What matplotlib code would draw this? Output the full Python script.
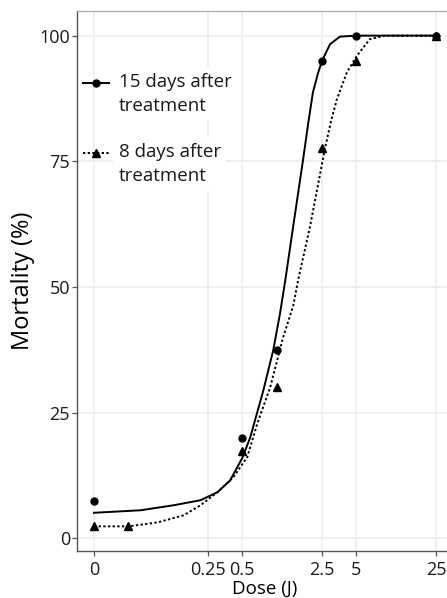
import numpy as np
import matplotlib.pyplot as plt
from matplotlib.lines import Line2D
from matplotlib.legend_handler import HandlerLine2D

plt.rcParams['font.family'] = ['Open Sans', 'DejaVu Sans']

# dose axis is log; dose 0 is drawn one decade below 0.25
ZERO_AT = 0.025
tick_doses = [0, 0.25, 0.5, 2.5, 5, 25]
tick_labels = ["0", "0.25", "0.5", "2.5", "5", "25"]
y_ticks = [0, 25, 50, 75, 100]

# observed mortality
dose_15 = [0, 0.5, 1, 2.5, 5, 25]
mort_15 = [7.4, 19.9, 37.4, 95, 100, 100]
dose_8 = [0, 0.05, 0.5, 1, 2.5, 5, 25]
mort_8 = [2.4, 2.4, 17.4, 30.1, 77.7, 95, 100]

# fitted curves
fit_dose_15 = [0, 0.064, 0.125, 0.215, 0.303, 0.39, 0.5, 0.587, 0.764, 0.933,
               1.07, 1.19, 1.40, 1.71, 1.89, 2.08, 2.31, 2.5, 2.94, 3.59, 5, 25]
fit_mort_15 = [5.1, 5.6, 6.6, 7.6, 9.2, 11.5, 16.0, 20.1, 29.4, 37.4,
               44.7, 51.3, 62.2, 75.5, 82.5, 88.7, 92.6, 95, 98.3, 99.8, 100, 100]
fit_dose_8 = [0, 0.05, 0.091, 0.153, 0.215, 0.303, 0.418, 0.553, 0.676, 0.879,
              1.14, 1.40, 1.54, 1.97, 2.65, 3.0, 3.38, 4.13, 5.06, 6.56, 8.87, 25]
fit_mort_8 = [2.4, 2.4, 3.2, 4.6, 6.6, 9.2, 12.2, 16.2, 22.8, 30.1,
              40.0, 46.3, 51.3, 62.2, 77.5, 83.0, 87.4, 92.7, 96.0, 99.3, 100, 100]


def pos(d):
    d = np.asarray(d, dtype=float)
    return np.where(d == 0, ZERO_AT, d)


class FirstLineHandler(HandlerLine2D):
    # put the legend key level with the first line of a two-line label
    def create_artists(self, legend, orig_handle, xdescent, ydescent,
                       width, height, fontsize, trans):
        return super().create_artists(legend, orig_handle, xdescent,
                                      ydescent - 17, width, height,
                                      fontsize, trans)


fig = plt.figure(figsize=(4.47, 5.98), dpi=100)
ax = fig.add_axes([77 / 447, 47 / 598, 376 / 447, 540 / 598])

ax.plot(pos(fit_dose_15), fit_mort_15, color='black', lw=1.4)
ax.plot(pos(fit_dose_8), fit_mort_8, color='black', lw=1.4, ls=(0, (1.2, 1.2)))
ax.plot(pos(dose_15), mort_15, 'o', color='black', ms=5)
ax.plot(pos(dose_8), mort_8, '^', color='black', ms=6)

ax.set_xscale('log')
ax.set_xlim(0.01776, 35.2)
ax.set_ylim(-2.5, 104.9)
ax.set_xticks(pos(tick_doses))
ax.set_xticklabels(tick_labels)
ax.xaxis.set_minor_locator(plt.NullLocator())
ax.set_yticks(y_ticks)

ax.grid(True, color='#ebebeb', lw=1.1)
ax.set_axisbelow(True)
for s in ['left', 'bottom']:
    ax.spines[s].set_color('#555555')
    ax.spines[s].set_linewidth(1.0)
ax.spines['top'].set_color('#a8a8a8')
ax.spines['right'].set_visible(False)
ax.tick_params(axis='both', length=3.6, width=0.9, color='#555555',
               labelsize=13, labelcolor='#1a1a1a')
ax.tick_params(axis='x', pad=3.5)
ax.tick_params(axis='y', pad=1.5)

ax.set_xlabel('Dose (J)', fontsize=13.5, va='baseline')
ax.set_ylabel('Mortality (%)', fontsize=17, va='center')
ax.xaxis.set_label_coords(0.5, -0.079)
ax.yaxis.set_label_coords(-0.143, 0.5)

handles = [Line2D([], [], color='black', lw=1.4, marker='o', ms=5),
           Line2D([], [], color='black', lw=1.4, ls=(0, (1.2, 1.2)), marker='^', ms=6)]
leg = ax.legend(handles, ['15 days after\ntreatment', '8 days after\ntreatment'],
                loc='upper left', bbox_to_anchor=(83 / 447, (598 - 73) / 598),
                bbox_transform=fig.transFigure, frameon=False, borderpad=0,
                borderaxespad=0, handlelength=1.4, handletextpad=0.5,
                labelspacing=1.5, fontsize=13.5,
                handler_map={Line2D: FirstLineHandler()})
for t in leg.get_texts():
    t.set_color('#1a1a1a')
    t.set_linespacing(1.42)
    t.set_bbox(dict(facecolor='white', edgecolor='none', pad=4))

fig.savefig('out.png', dpi=100)
